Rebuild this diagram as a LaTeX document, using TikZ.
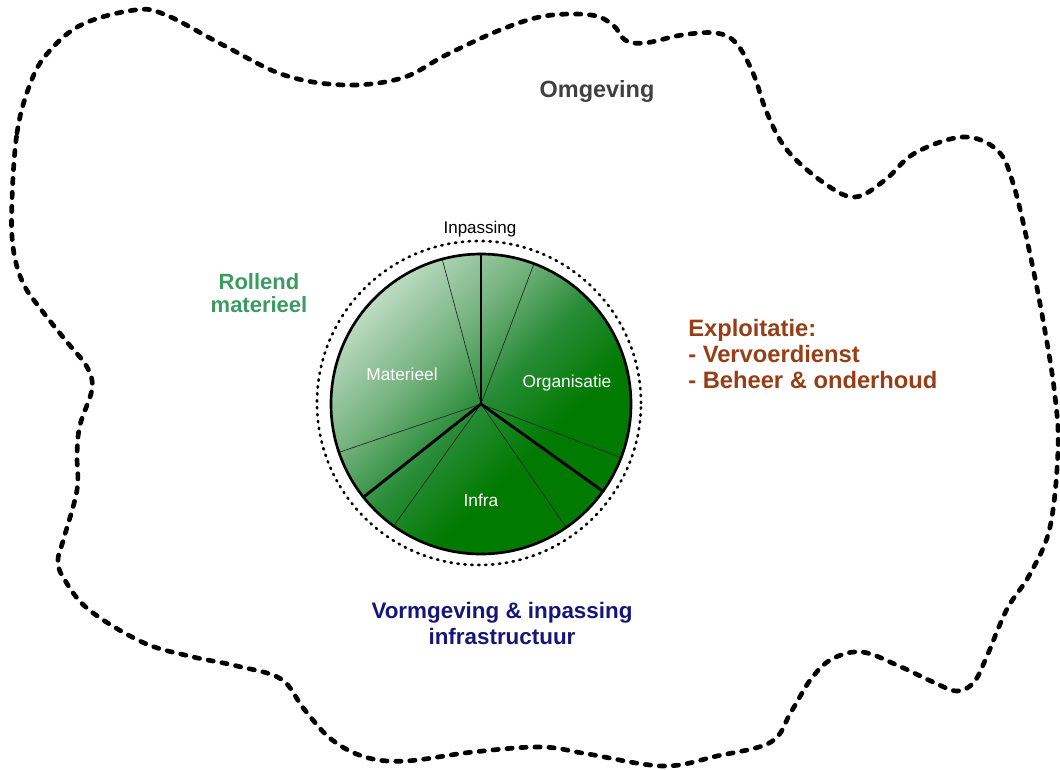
\documentclass[tikz,border=0pt]{standalone}
\usepackage{fontspec}
\setmainfont{Liberation Sans}
\usetikzlibrary{calc}
\definecolor{rollgreen}{RGB}{60,155,100}
\definecolor{exbrown}{RGB}{152,62,22}
\definecolor{vnavy}{RGB}{22,22,122}
\definecolor{omgray}{RGB}{64,64,64}
\definecolor{plight}{RGB}{195,222,200}
\definecolor{pmida}{RGB}{115,178,125}
\definecolor{pmidb}{RGB}{40,140,55}
\definecolor{pdark}{RGB}{0,122,0}
\pgfdeclareverticalshading{pieshade}{100bp}{color(0bp)=(pdark); color(38bp)=(pdark); color(50bp)=(pmidb); color(61bp)=(pmida); color(76bp)=(plight); color(100bp)=(plight)}
\tikzset{
  blob/.style={line width=3.5pt, dash pattern=on 4pt off 6.5pt, line cap=round},
  dotring/.style={line width=2pt, dash pattern=on 1pt off 4.2pt, line cap=round},
  thinspoke/.style={line width=0.5pt, black!85},
  thickspoke/.style={line width=2.2pt, black},
  pielabel/.style={text=white, font=\fontsize{13}{15}\selectfont, inner sep=0pt},
}
\begin{document}
\begin{tikzpicture}[x=0.75pt,y=-0.75pt]
\useasboundingbox (0,0) rectangle (1060,769);
\fill[white] (0,0) rectangle (1060,769);
% environment outline
\draw[blob] plot[smooth cycle, tension=0.6] coordinates {
(12,200) (17,133) (29,87) (46,55) (81,25) (135,10) (166,15) (223,45) (284,75) (345,85) (402,78) (446,55) (500,30) (545,16) (591,15) (613,25) (625,40) (645,43) (682,35) (716,33) (736,43) (753,73) (767,113) (787,150) (824,183) (855,197) (885,180) (915,153) (963,137) (997,150) (1013,183) (1030,254) (1045,331) (1055,396) (1058,450) (1050,527) (1030,574) (1007,609) (987,656) (974,682) (957,691) (933,682) (899,666) (862,652) (832,659) (811,679) (791,712) (771,742) (717,756) (663,766) (588,754) (541,747) (473,752) (406,761) (365,757) (331,739) (304,709) (281,679) (237,666) (189,656) (142,642) (88,609) (63,577) (58,560) (63,541) (77,490) (77,454) (80,425) (92,389) (87,367) (67,342) (43,312) (23,283) (13,247)};
% pie
\coordinate (C) at (481,404);
\shade[shading=pieshade, shading angle=45] (C) circle[radius=112.5pt];
\foreach \a [count=\i] in {105,69.3,-21,-55.4,234.4,198.8} {
  \coordinate (t\i) at ($(C)+(\a:112.5pt)$);
  \draw[thinspoke] (C) -- (t\i);
}
\foreach \a [count=\i] in {90,218.4,-35.6} {
  \coordinate (k\i) at ($(C)+(\a:112.5pt)$);
  \draw[thickspoke, line cap=round] (C) -- (k\i);
}
\draw[line width=2pt] (C) circle[radius=112.5pt];
\draw[dotring] (479,403) circle[radius=121.5pt];
% labels
\node[font=\fontsize{12.75}{15}\selectfont, inner sep=0pt] (inp) at (480,229) {Inpassing};
\node[pielabel] (mat) at (402,374) {Materieel};
\node[pielabel] (org) at (567,383) {Organisatie};
\node[pielabel] (inf) at (481,500) {Infra};
\node[font=\bfseries\fontsize{17.6}{20}\selectfont, text=omgray, inner sep=0pt] (omg) at (597,91) {Omgeving};
\node[font=\bfseries\fontsize{16.5}{17}\selectfont, text=rollgreen, align=center, inner sep=0pt] (rol) at (259,293) {Rollend\\materieel};
\node[font=\bfseries\fontsize{17.8}{19.8}\selectfont, text=exbrown, align=left, anchor=west, inner sep=0pt] (exp) at (688,354) {Exploitatie:\\- Vervoerdienst\\- Beheer \& onderhoud};
\node[font=\bfseries\fontsize{16.8}{19.5}\selectfont, text=vnavy, align=center, inner sep=0pt] (vorm) at (502,623) {Vormgeving \& inpassing\\infrastructuur};
\end{tikzpicture}
\end{document}
